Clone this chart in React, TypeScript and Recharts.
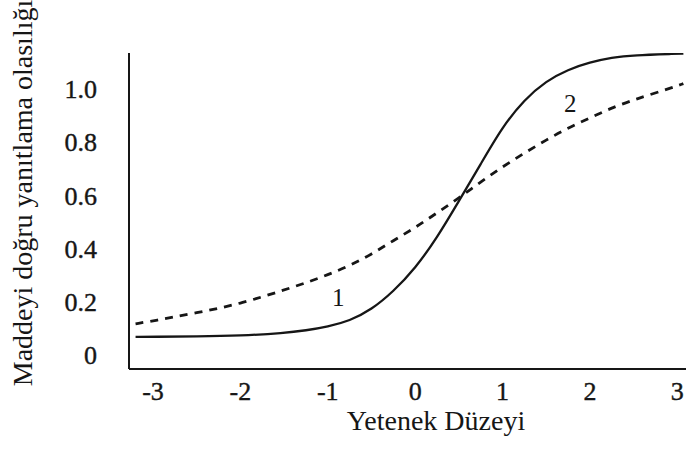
import { LineChart, Line, XAxis, YAxis, ReferenceDot, Label } from 'recharts'

// yetenek düzeyi (theta) değerleri
const thetas = [-3.2, -3, -2.5, -2, -1.5, -1.25, -1, -0.75, -0.5, -0.25, 0, 0.25, 0.5, 0.75, 1, 1.25, 1.5, 1.75, 2, 2.25, 2.5, 3, 3.07]

// madde 1: düz çizgi
const item1 = [0.068, 0.068, 0.069, 0.072, 0.082, 0.092, 0.106, 0.128, 0.17, 0.238, 0.325, 0.44, 0.578, 0.717, 0.858, 0.96, 1.03, 1.073, 1.1, 1.118, 1.127, 1.132, 1.133]

// madde 2: kesikli çizgi
const item2 = [0.117, 0.128, 0.158, 0.192, 0.244, 0.271, 0.301, 0.335, 0.378, 0.43, 0.478, 0.534, 0.59, 0.65, 0.707, 0.759, 0.808, 0.853, 0.891, 0.929, 0.959, 1.011, 1.02]

const xTicks = [-3, -2, -1, 0, 1, 2, 3]
const yTicks = [0, 0.2, 0.4, 0.6, 0.8, 1.0]

// eğri etiketleri
const curveLabels = [
  { name: '1', theta: -0.88, p: 0.218 },
  { name: '2', theta: 1.775, p: 0.947 },
]

const data = thetas.map((t, i) => ({ theta: t, item1: item1[i], item2: item2[i] }))

const FONT = '"Liberation Serif", "DejaVu Serif", serif'
const INK = '#161616'

const fmtY = (v: number) => (v === 0 ? '0' : v.toFixed(1))

// taranmış baskıdaki kalın rakamlar için ince kontur
const XTick = ({ x, y, payload }: any) => (
  <text x={x} y={y} dy="0.71em" textAnchor="middle" fontFamily={FONT} fontSize={26}
    fill={INK} stroke={INK} strokeWidth={0.4}>
    {String(payload.value)}
  </text>
)

const YTick = ({ x, y, payload }: any) => (
  <text x={x} y={y} dy="0.355em" textAnchor="end" fontFamily={FONT} fontSize={26}
    fill={INK} stroke={INK} strokeWidth={0.4}>
    {fmtY(payload.value)}
  </text>
)

const YTitle = () => (
  <text
    transform="translate(32,193) rotate(-90)"
    textAnchor="middle"
    fontFamily={FONT}
    fontSize={28}
    fill={INK}
  >
    Maddeyi doğru yanıtlama olasılığı
  </text>
)

const XTitle = () => (
  <text x={436} y={430} textAnchor="middle" fontFamily={FONT} fontSize={28} fill={INK}>
    Yetenek Düzeyi
  </text>
)

export default function App() {
  return (
    <div style={{ position: 'absolute', left: 0, top: 0, width: 686, height: 455, background: '#fff' }}>
      <LineChart width={686} height={455} data={data} margin={{ top: 53, right: 0, bottom: 0, left: 0 }}>
        <XAxis
          dataKey="theta"
          type="number"
          domain={[-3.275, 3.1]}
          allowDataOverflow
          ticks={xTicks}
          interval={0}
          height={86}
          tickLine={false}
          tickSize={0}
          tickMargin={13}
          axisLine={{ stroke: INK, strokeWidth: 2 }}
          tick={<XTick />}
        >
          <Label content={<XTitle />} />
        </XAxis>
        <YAxis
          type="number"
          domain={[-0.053, 1.135]}
          allowDataOverflow
          ticks={yTicks}
          interval={0}
          width={129}
          tickLine={false}
          tickSize={0}
          tickMargin={32}
          axisLine={{ stroke: INK, strokeWidth: 2 }}
          tick={<YTick />}
        >
          <Label content={<YTitle />} />
        </YAxis>

        <Line
          type="basis"
          dataKey="item1"
          stroke={INK}
          strokeWidth={2.3}
          dot={false}
          isAnimationActive={false}
        />
        <Line
          type="basis"
          dataKey="item2"
          stroke={INK}
          strokeWidth={2.8}
          strokeDasharray="8 7"
          dot={false}
          isAnimationActive={false}
        />

        {curveLabels.map(c => (
          <ReferenceDot
            key={c.name}
            x={c.theta}
            y={c.p}
            r={0}
            stroke="none"
            fill="none"
            label={{ value: c.name, position: 'center', fill: INK, fontSize: 25, fontFamily: FONT }}
          />
        ))}
      </LineChart>
    </div>
  )
}
